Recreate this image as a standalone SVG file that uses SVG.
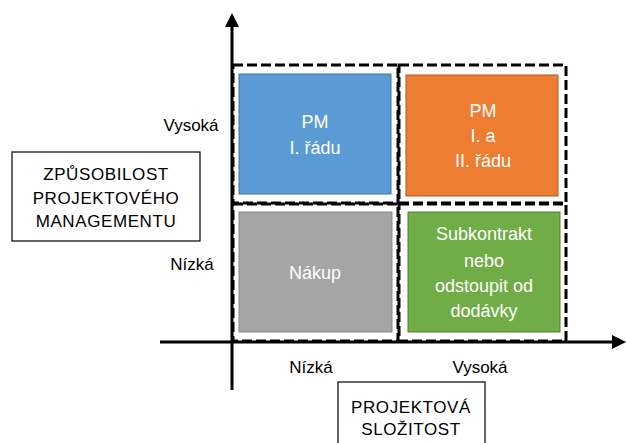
<svg xmlns="http://www.w3.org/2000/svg" width="626" height="443" viewBox="0 0 626 443">
  <defs>
    <style>
      text { font-family: "Liberation Sans", Arial, sans-serif; font-size: 17px; text-anchor: middle; }
      .in { fill: #ffffff; font-size: 18px; }
      .lbl { fill: #000000; }
      .cap { letter-spacing: 0.6px; }
      .frame { fill: none; stroke: #000000; stroke-width: 3; stroke-dasharray: 10 4; }
      .axis { stroke: #000000; stroke-width: 3; fill: none; }
      .box { fill: #ffffff; stroke: #000000; stroke-width: 1.2; }
    </style>
  </defs>

  <!-- dashed quadrant frames -->
  <g id="frames">
    <rect class="frame" x="233" y="65" width="165" height="138"/>
    <rect class="frame" x="399" y="65" width="167" height="138"/>
    <rect class="frame" x="233" y="204" width="165" height="137"/>
    <rect class="frame" x="399" y="204" width="167" height="137"/>
  </g>

  <!-- quadrant nodes -->
  <g id="pm1">
    <rect x="239" y="74" width="152" height="120" fill="#5B9BD5" stroke="#41719C" stroke-width="1"/>
    <text class="in" x="315" y="128">PM</text>
    <text class="in" x="315" y="154">I. řádu</text>
  </g>
  <g id="pm12">
    <rect x="406" y="75" width="152" height="121" fill="#ED7D31" stroke="#AE5A21" stroke-width="1"/>
    <text class="in" x="483" y="117">PM</text>
    <text class="in" x="483" y="142">I. a</text>
    <text class="in" x="483" y="167">II. řádu</text>
  </g>
  <g id="nakup">
    <rect x="239" y="212" width="153" height="120" fill="#A5A5A5" stroke="#878787" stroke-width="1"/>
    <text class="in" x="315" y="279">Nákup</text>
  </g>
  <g id="subkontrakt">
    <rect x="408" y="212" width="152" height="120" fill="#70AD47" stroke="#507E32" stroke-width="1"/>
    <text class="in" x="484" y="240">Subkontrakt</text>
    <text class="in" x="484" y="267">nebo</text>
    <text class="in" x="484" y="292">odstoupit od</text>
    <text class="in" x="484" y="317">dodávky</text>
  </g>

  <!-- axes -->
  <g id="connectors">
    <line class="axis" x1="232" y1="24" x2="232" y2="390"/>
    <polygon points="232,13 225,27 239,27" fill="#000000"/>
    <line class="axis" x1="160" y1="342" x2="614" y2="342"/>
    <polygon points="626,342 612,335 612,349" fill="#000000"/>
  </g>

  <!-- axis level labels -->
  <g id="levels">
    <text class="lbl" x="191" y="131">Vysoká</text>
    <text class="lbl" x="192" y="270">Nízká</text>
    <text class="lbl" x="311" y="373">Nízká</text>
    <text class="lbl" x="480" y="373">Vysoká</text>
  </g>

  <!-- axis titles -->
  <g id="capability">
    <rect class="box" x="12" y="152" width="188" height="89"/>
    <text class="lbl cap" x="106" y="180">ZPŮSOBILOST</text>
    <text class="lbl cap" x="106" y="204">PROJEKTOVÉHO</text>
    <text class="lbl cap" x="106" y="227">MANAGEMENTU</text>
  </g>
  <g id="complexity">
    <rect class="box" x="338" y="382" width="147" height="62"/>
    <text class="lbl cap" x="411" y="413">PROJEKTOVÁ</text>
    <text class="lbl cap" x="411" y="435">SLOŽITOST</text>
  </g>
</svg>
